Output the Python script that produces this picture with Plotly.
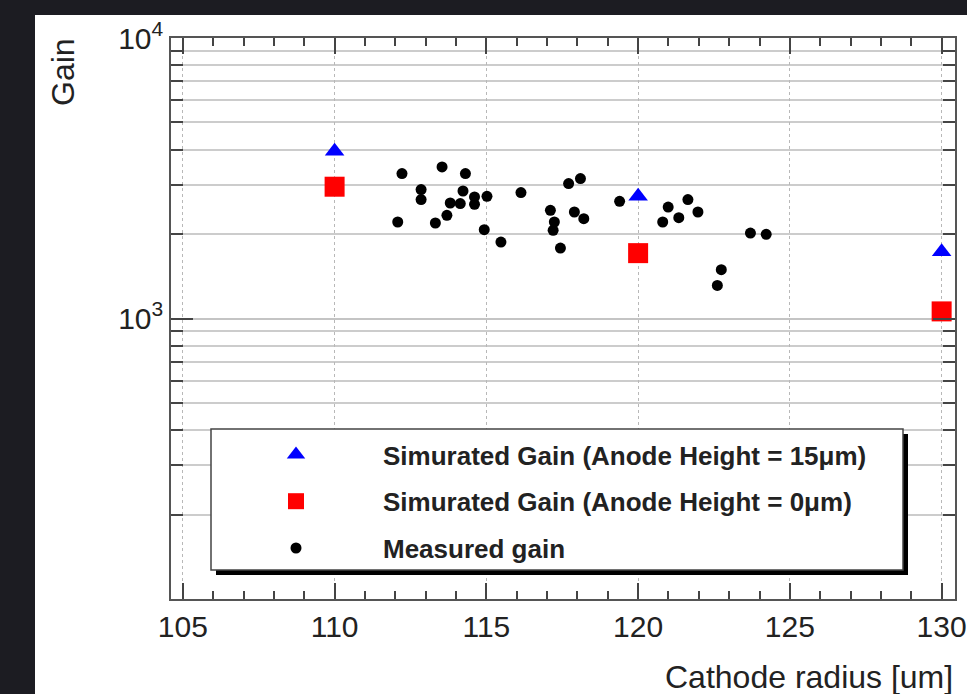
import plotly.graph_objects as go

# ---------------- data ----------------
sim_radius = [110, 120, 130]
sim15_gain = [3950, 2730, 1730]
sim0_gain = [2950, 1710, 1060]

meas_radius = [112.22, 113.54, 114.31, 112.85, 112.85, 114.23, 112.08, 113.32,
               113.70, 113.81, 114.14, 114.61, 114.61, 115.02, 114.93, 115.48,
               116.14, 117.71, 118.10, 117.11, 117.24, 117.20, 117.90, 118.21,
               117.44, 119.39, 120.99, 121.64, 120.81, 121.34, 121.97, 123.70,
               124.22, 122.74, 122.61]
meas_gain = [3287, 3471, 3287, 2881, 2654, 2848, 2208, 2190,
             2333, 2581, 2568, 2712, 2554, 2727, 2074, 1873,
             2812, 3028, 3154, 2431, 2208, 2062, 2397, 2270,
             1783, 2617, 2497, 2654, 2208, 2288, 2397, 2016,
             1995, 1493, 1312]

series_names = ["Simurated Gain (Anode Height = 15μm)",
                "Simurated Gain (Anode Height = 0μm)",
                "Measured gain"]

x_tickvals = [105, 110, 115, 120, 125, 130]
y_tickvals = [1000, 10000]
y_ticktext = ["10<sup>3</sup>", "10<sup>4</sup>"]
y_minor_vals = [200, 300, 400, 500, 600, 700, 800, 900,
                2000, 3000, 4000, 5000, 6000, 7000, 8000, 9000]
x_title = "Cathode radius [um]"
y_title = "Gain"

FONT = "Liberation Sans, Arial, Helvetica, sans-serif"

# ---------------- geometry helpers (pixel -> paper) ----------------
W, H = 967, 694
ML, MR, MT, MB = 171, 12, 38, 95
PW, PH = W - ML - MR, H - MT - MB


def px(x):
    return (x - ML) / PW


def py(y):
    return (H - MB - y) / PH


fig = go.Figure()

fig.add_trace(go.Scatter(
    x=sim_radius, y=sim15_gain, mode="markers", name=series_names[0],
    legendgroup="a",
    marker=dict(symbol="triangle-up", size=17, color="#0000ff")))
fig.add_trace(go.Scatter(
    x=sim_radius, y=sim0_gain, mode="markers", name=series_names[1],
    legendgroup="b",
    marker=dict(symbol="square", size=20, color="#ff0000")))
fig.add_trace(go.Scatter(
    x=meas_radius, y=meas_gain, mode="markers", name=series_names[2],
    legendgroup="c",
    marker=dict(symbol="circle", size=11, color="#000000")))

shapes = [
    # white panel on dark background
    dict(type="rect", xref="paper", yref="paper", layer="below",
         x0=px(35), x1=px(1100), y0=py(800), y1=py(15),
         fillcolor="white", line=dict(width=0)),
    # legend shadow
    dict(type="rect", xref="paper", yref="paper", layer="above",
         x0=px(216), x1=px(908), y0=py(575), y1=py(434),
         fillcolor="black", line=dict(width=0)),
    # legend box
    dict(type="rect", xref="paper", yref="paper", layer="above",
         x0=px(211), x1=px(903), y0=py(570), y1=py(429),
         fillcolor="white", line=dict(color="#444444", width=1.5)),
]

annotations = [
    dict(text=y_title, xref="paper", yref="paper", x=px(63), y=py(72),
         xanchor="center", yanchor="middle", textangle=-90, showarrow=False,
         font=dict(family=FONT, size=32, color="#222222")),
    dict(text=x_title, xref="paper", yref="paper", x=px(955), y=py(677),
         xanchor="right", yanchor="middle", showarrow=False,
         font=dict(family=FONT, size=32, color="#222222")),
]

fig.update_layout(
    width=W, height=H, autosize=False,
    margin=dict(l=ML, r=MR, t=MT, b=MB, pad=0, autoexpand=False),
    paper_bgcolor="#1c1c22",
    plot_bgcolor="white",
    shapes=shapes,
    annotations=annotations,
    showlegend=True,
    legend=dict(
        x=px(209), y=py(431), xanchor="left", yanchor="top",
        bgcolor="rgba(0,0,0,0)", borderwidth=0,
        itemwidth=164, tracegroupgap=10,
        font=dict(family=FONT, size=26, color="#222222", weight="bold"),
    ),
    xaxis=dict(
        range=[104.61, 130.44], automargin=False,
        tickmode="array", tickvals=x_tickvals,
        ticks="inside", ticklen=16, tickwidth=1.5, tickcolor="#444444",
        showline=True, linecolor="#555555", linewidth=1.5, mirror="ticks",
        showgrid=True, gridcolor="#b8b8b8", gridwidth=1, griddash="dot",
        zeroline=False,
        tickfont=dict(family=FONT, size=30, color="#222222"),
        minor=dict(dtick=1, tick0=105, ticks="inside", ticklen=8,
                   tickwidth=1.5, tickcolor="#444444", showgrid=False),
    ),
    yaxis=dict(
        type="log", range=[2, 4], automargin=False,
        tickmode="array", tickvals=y_tickvals, ticktext=y_ticktext,
        ticks="inside", ticklen=22, tickwidth=1.5, tickcolor="#444444",
        showline=True, linecolor="#555555", linewidth=1.5, mirror="ticks",
        showgrid=True, gridcolor="#c4c4c4", gridwidth=1.5,
        zeroline=False,
        tickfont=dict(family=FONT, size=30, color="#222222"),
        minor=dict(tickmode="array", tickvals=y_minor_vals, ticks="inside",
                   ticklen=12, tickwidth=1.5, tickcolor="#444444",
                   showgrid=True, gridcolor="#cccccc", gridwidth=1.5),
    ),
)

fig.write_html("out.html")
